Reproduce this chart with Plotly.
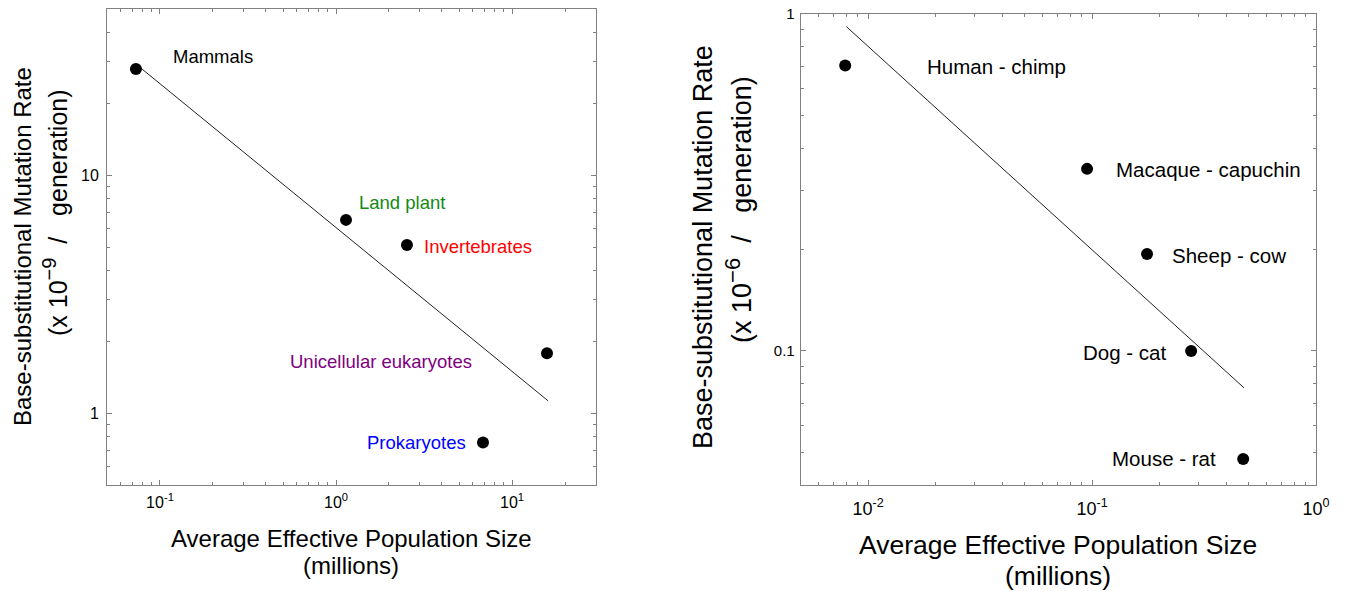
import numpy as np
import plotly.graph_objects as go

# ---------------- data ----------------
# Left panel: broad groups (Ne in millions, rate x 1e-9 / generation)
groups = ["Mammals", "Land plant", "Invertebrates", "Unicellular eukaryotes", "Prokaryotes"]
group_ne = [0.073, 1.14, 2.53, 15.8, 6.84]
group_rate = [28.0, 6.5, 5.1, 1.79, 0.755]
fit_left_ne = [0.078, 16.0]
fit_left_rate = [28.2, 1.13]

# Right panel: species pairs (Ne in millions, rate x 1e-6 / generation)
pairs = ["Human - chimp", "Macaque - capuchin", "Sheep - cow", "Dog - cat", "Mouse - rat"]
pair_ne = [0.0079, 0.095, 0.176, 0.277, 0.473]
pair_rate = [0.703, 0.347, 0.194, 0.100, 0.0478]
fit_right_ne = [0.0080, 0.477]
fit_right_rate = [0.917, 0.0777]

# tick labels
left_x_ticks = [0.1, 1, 10]
left_x_ticktext = ["10<sup>-1</sup>", "10<sup>0</sup>", "10<sup>1</sup>"]
left_y_ticks = [1, 10]
left_y_ticktext = ["1", "10"]
right_x_ticks = [0.01, 0.1, 1]
right_x_ticktext = ["10<sup>-2</sup>", "10<sup>-1</sup>", "10<sup>0</sup>"]
right_y_ticks = [0.1, 1]
right_y_ticktext = ["0.1", "1"]

# ---------------- styles ----------------
FONT = "Liberation Sans, Arial, sans-serif"
W, H = 1347, 591
OFF = 8  # page body margin of the html page
NB = "\u00a0"
group_colors = ["black", "#138a13", "#ff0000", "#800080", "#0000ff"]
group_anchor = ["left", "left", "left", "right", "right"]
group_dx = [35, 11, 15, -73, -15]
group_dy = [12, 17, -2, -8, 0]
pair_anchor = ["left", "left", "left", "right", "right"]
pair_dx = [80, 27, 23, -23, -25]
pair_dy = [-1, -1, -2, -2, 0]


def minor_vals(lo_exp, hi_exp, lo, hi):
    vals = []
    for e in range(lo_exp, hi_exp + 1):
        for m in range(2, 10):
            v = m * 10.0 ** e
            if lo <= v <= hi:
                vals.append(v)
    return vals


def dom_x(p0, p1):
    return [(p0 - OFF) / W, (p1 - OFF) / W]


def dom_y(top, bottom):
    return [1 - (bottom - OFF) / H, 1 - (top - OFF) / H]


fig = go.Figure()

# left panel
fig.add_trace(go.Scatter(x=fit_left_ne, y=fit_left_rate, mode="lines",
                         line=dict(color="#222", width=1), xaxis="x", yaxis="y",
                         showlegend=False, hoverinfo="skip"))
fig.add_trace(go.Scatter(x=group_ne, y=group_rate, mode="markers", text=groups,
                         marker=dict(color="black", size=12), xaxis="x", yaxis="y",
                         showlegend=False))
# right panel
fig.add_trace(go.Scatter(x=fit_right_ne, y=fit_right_rate, mode="lines",
                         line=dict(color="#222", width=1), xaxis="x2", yaxis="y2",
                         showlegend=False, hoverinfo="skip"))
fig.add_trace(go.Scatter(x=pair_ne, y=pair_rate, mode="markers", text=pairs,
                         marker=dict(color="black", size=12), xaxis="x2", yaxis="y2",
                         showlegend=False))

annotations = []
for name, xv, yv, c, a, dx, dy in zip(groups, group_ne, group_rate, group_colors,
                                      group_anchor, group_dx, group_dy):
    annotations.append(dict(x=np.log10(xv), y=np.log10(yv), xref="x", yref="y",
                            text=name, showarrow=False, xanchor=a, yanchor="middle",
                            xshift=dx, yshift=dy,
                            font=dict(family=FONT, size=18.5, color=c)))
for name, xv, yv, a, dx, dy in zip(pairs, pair_ne, pair_rate, pair_anchor, pair_dx, pair_dy):
    annotations.append(dict(x=np.log10(xv), y=np.log10(yv), xref="x2", yref="y2",
                            text=name, showarrow=False, xanchor=a, yanchor="middle",
                            xshift=dx, yshift=dy,
                            font=dict(family=FONT, size=20.5, color="black")))


def title(text, px, py, size, angle=0):
    x, y = (px - OFF) / W, 1 - (py - OFF) / H
    annotations.append(dict(x=x, y=y, xref="paper", yref="paper", text=text,
                            showarrow=False, xanchor="center", yanchor="middle",
                            textangle=angle, font=dict(family=FONT, size=size, color="black")))


def unit_line(exp, sup_size):
    return ("(x 10<sup><span style='font-size:%dpx'>%s</span></sup>" % (sup_size, exp)
            + NB * 2 + "/" + NB * 3 + "generation)")


title("Average Effective Population Size", 351, 538, 24)
title("(millions)", 351, 565, 24)
title("Base-substitutional Mutation Rate", 23, 247, 24, -90)
title(unit_line("\u22129", 20), 55, 213, 25, -90)
title("Average Effective Population Size", 1058, 545, 26.5)
title("(millions)", 1058, 576, 26.5)
title("Base-substitutional Mutation Rate", 703, 247, 27, -90)
title(unit_line("\u22126", 22), 738, 210, 27, -90)

axis_common = dict(type="log", showgrid=False, zeroline=False, showline=True,
                   linecolor="#808080", linewidth=1, mirror="allticks",
                   ticks="inside", ticklen=5, tickcolor="#808080", tickwidth=1,
                   automargin=False, ticklabeloverflow="allow")

fig.update_layout(
    width=W, height=H,
    margin=dict(l=0, r=0, t=0, b=0, autoexpand=False),
    paper_bgcolor="white", plot_bgcolor="white",
    font=dict(family=FONT, color="black"),
    xaxis=dict(**axis_common, domain=dom_x(107, 596),
               range=[np.log10(0.05), np.log10(30)], anchor="y",
               tickmode="array", tickvals=left_x_ticks, ticktext=left_x_ticktext,
               tickfont=dict(size=16), ticklabelstandoff=3,
               minor=dict(ticks="inside", ticklen=3, tickcolor="#808080",
                          tickmode="array", tickvals=minor_vals(-2, 1, 0.05, 30))),
    yaxis=dict(**axis_common, domain=dom_y(9, 485),
               range=[np.log10(0.5), np.log10(50)], anchor="x",
               tickmode="array", tickvals=left_y_ticks, ticktext=left_y_ticktext,
               tickfont=dict(size=16), ticklabelstandoff=4,
               minor=dict(ticks="inside", ticklen=3, tickcolor="#808080",
                          tickmode="array", tickvals=minor_vals(-1, 1, 0.5, 50))),
    xaxis2=dict(**axis_common, domain=dom_x(800.7, 1316),
                range=[np.log10(0.005), 0], anchor="y2",
                tickmode="array", tickvals=right_x_ticks, ticktext=right_x_ticktext,
                tickfont=dict(size=18), ticklabelstandoff=7,
                minor=dict(ticks="inside", ticklen=3, tickcolor="#808080",
                           tickmode="array", tickvals=minor_vals(-3, 0, 0.005, 1))),
    yaxis2=dict(**axis_common, domain=dom_y(14, 485),
                range=[np.log10(0.04), 0], anchor="x2",
                tickmode="array", tickvals=right_y_ticks, ticktext=right_y_ticktext,
                tickfont=dict(size=15), ticklabelstandoff=2,
                minor=dict(ticks="inside", ticklen=3, tickcolor="#808080",
                           tickmode="array", tickvals=minor_vals(-2, 0, 0.04, 1))),
    annotations=annotations,
)

fig.write_html("out.html")
